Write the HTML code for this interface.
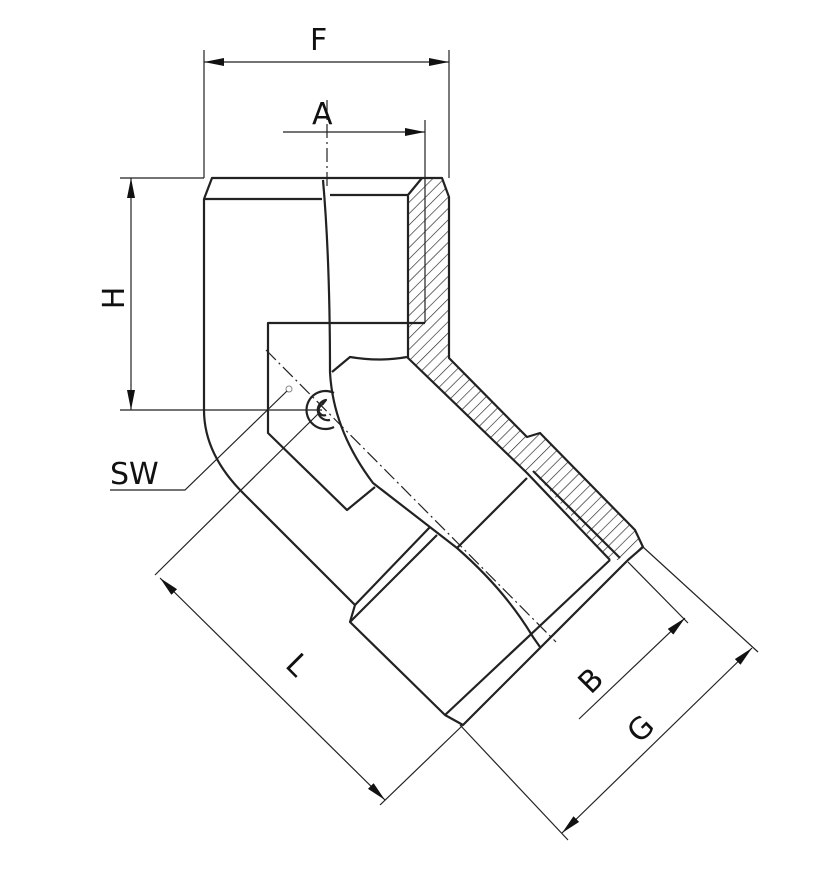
<!DOCTYPE html>
<html><head><style>
html,body{margin:0;padding:0;background:#fff;}
svg{display:block;}
text{font-family:"DejaVu Sans","Liberation Sans",sans-serif;font-size:30px;fill:#111;}
</style></head><body>
<svg width="837" height="873" viewBox="0 0 837 873" xmlns="http://www.w3.org/2000/svg">
<defs>
<marker id="ar" viewBox="0 0 20 8" refX="20" refY="4" markerWidth="20" markerHeight="8" markerUnits="userSpaceOnUse" orient="auto-start-reverse">
<path d="M0,0 L20,4 L0,8 z" fill="#111"/></marker>
<pattern id="hatch" patternUnits="userSpaceOnUse" width="8" height="8" patternTransform="rotate(45)">
<line x1="0" y1="0" x2="0" y2="8" stroke="#222" stroke-width="1.3"/></pattern>
</defs>
<g fill="none" stroke="#222">
<path d="M422,178 L442,178 L449,197 L449,358 L527,437 L540,433 L635,530 L643,547 L628,560 L610,560 L533,472 L527,473 L408,358 L408,196 Z" fill="url(#hatch)" stroke="none"/>
<g stroke-width="2.2" stroke-linejoin="round">
<path d="M204,199 L212,178 L442,178 L449,197 L449,358 L527,437 L540,433 L635,530 L643,547 L628,560 L463,725 L445,715 L350,622 L355,605 L245,495 Q204,455 204,410 Z"/>
<path d="M204,199 L322,199"/>
<path d="M330,195 L408,195 L422,178"/>
<path d="M408,196 L408,358 L527,473 L610,560"/>
<path d="M533,471 L620,558"/>
<path d="M323,180 Q330,260 330,372 Q333,430 373,483 L457,548 Q505,590 533,637 L540,647"/>
<path d="M332,372 L350,357 Q380,362 407,357"/>
<path d="M425,323 L268,323 L268,433 L347,510 L375,487"/>
<path d="M527,478 L457,548"/>
<path d="M437,535 L350,622"/>
<path d="M430,527 L355,605"/>
<path d="M445,715 L610,560"/>
<path d="M334,427 A19,19 0 1 1 334,393"/>
<path d="M330,420 A10,10 0 1 1 326,400 L322,405"/>
<path d="M326,415 A5,5 0 1 1 322,405"/>
</g>
<circle cx="289" cy="389" r="3" stroke-width="1" stroke="#888"/>
<g stroke-width="1.2">
<path d="M266,350 L556,642" stroke-dasharray="14,4,2,4"/>
<path d="M327,100 L327,190" stroke-dasharray="14,4,2,4"/>
<path d="M204,50 L204,178 M449,50 L449,178"/>
<path d="M204,62 L449,62" marker-start="url(#ar)" marker-end="url(#ar)"/>
<path d="M425,120 L425,323"/>
<path d="M283,132 L425,132" marker-end="url(#ar)"/>
<path d="M120,178 L204,178 M120,410 L322,410"/>
<path d="M131,178 L131,410" marker-start="url(#ar)" marker-end="url(#ar)"/>
<path d="M287,391 L185,490 L110,490"/>
<path d="M318,414 L155,575 M463,725 L380,805"/>
<path d="M160,578 L385,800" marker-start="url(#ar)" marker-end="url(#ar)"/>
<path d="M628,562 L688,623"/>
<path d="M579,719 L685,618" marker-end="url(#ar)"/>
<path d="M643,547 L758,652 M460,725 L568,840"/>
<path d="M562,833 L752,648" marker-start="url(#ar)" marker-end="url(#ar)"/>
</g>
</g>
<text x="310" y="50">F</text>
<text x="312" y="124">A</text>
<text transform="translate(124,298) rotate(-90)" text-anchor="middle">H</text>
<text x="110" y="484">SW</text>
<text transform="translate(290,672) rotate(45)" text-anchor="middle">L</text>
<text transform="translate(598,688) rotate(-45)" text-anchor="middle">B</text>
<text transform="translate(648,736) rotate(-45)" text-anchor="middle">G</text>
</svg>
</body></html>
